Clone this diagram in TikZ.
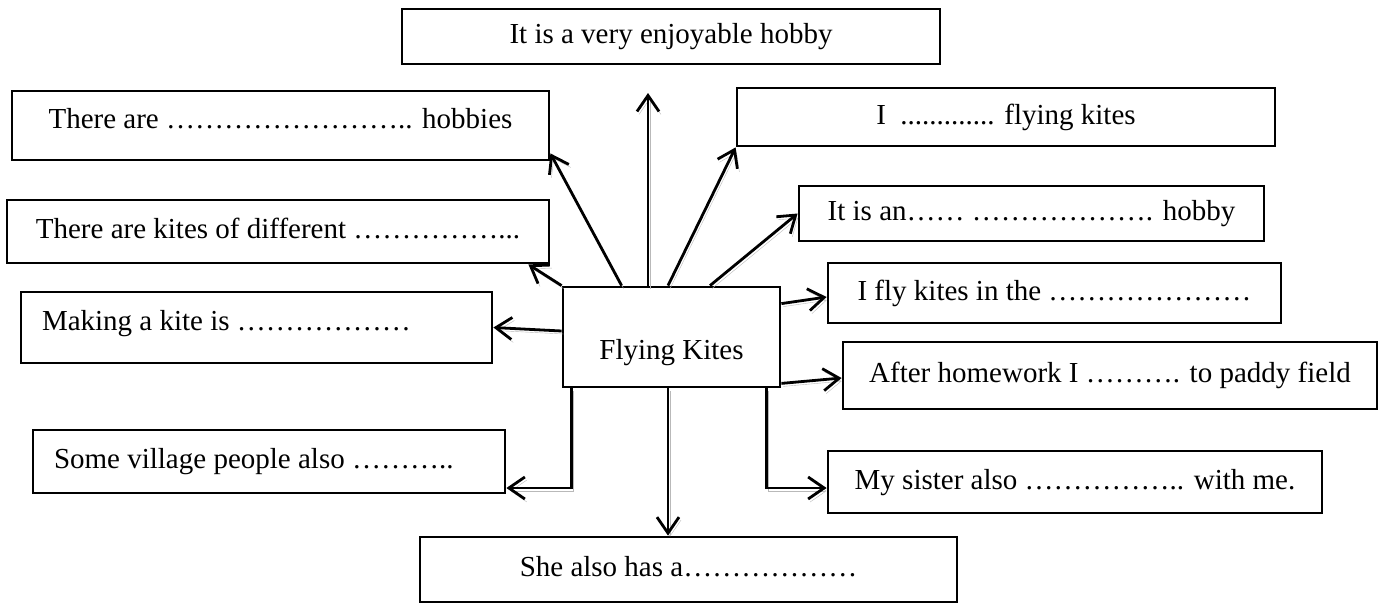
\documentclass[tikz,border=0pt]{standalone}
\usepackage{fontspec}
\setmainfont{Liberation Serif}
\usetikzlibrary{arrows.meta}

\begin{document}
\begin{tikzpicture}[x=1pt,y=-1pt,font=\fontsize{29}{34}\selectfont]
\tikzstyle{box}=[draw,line width=2.8pt,inner sep=0pt,text height=20pt,text depth=6pt]
\tikzstyle{link}=[line width=2.8pt,->,>={Straight Barb[length=16pt,width=22pt]},
  preaction={draw=gray!55,transform canvas={shift={(2pt,-3pt)}}}]

\useasboundingbox (0,0) rectangle (1384,603);

\node[box,minimum width=217pt,minimum height=100pt,text height=51pt] (fk) at (671.5,337) {Flying Kites};

\node[box,minimum width=538pt,minimum height=55pt] (enjoy) at (671,36.5) {It is a very enjoyable hobby};
\node[box,minimum width=537pt,minimum height=69pt,text depth=14pt] (hobbies) at (280.5,125.5) {There are …………………….. hobbies};
\node[box,minimum width=542pt,minimum height=63pt] (kinds) at (278,231.5) {There are kites of different ……………...};
\node[box,minimum width=471pt,minimum height=71pt,text depth=15pt,
  inner xsep=21pt,text width=429pt,align=flush left] (making) at (256.5,327.5) {Making a kite is ………………};
\node[box,minimum width=472pt,minimum height=63pt,
  inner xsep=21pt,text width=430pt,align=flush left] (village) at (269,461.5) {Some village people also ………..};
\node[box,minimum width=537pt,minimum height=65pt] (she) at (688.5,569.5) {She also has a………………};

\node[box,minimum width=538pt,minimum height=58pt] (like) at (1006,117) {I\ \ ............. flying kites};
\node[box,minimum width=465pt,minimum height=55pt] (kind) at (1031.5,213.5) {It is an…… ………………. hobby};
\node[box,minimum width=453pt,minimum height=60pt] (field) at (1054.5,293) {I fly kites in the …………………};
\node[box,minimum width=534pt,minimum height=67pt] (after) at (1110,375.5) {After homework I ………. to paddy field};
\node[box,minimum width=494pt,minimum height=62pt] (sister) at (1075,482) {My sister also …………….. with me.};

\coordinate (top) at (648,93);

\draw[link] (fk.north west) -- ([xshift=-22pt]kinds.south east);
\draw[link] ([xshift=60pt]fk.north west) -- ([yshift=8pt]hobbies.south east);
\draw[link] ([xshift=-23.5pt]fk.north) -- (top);
\draw[link] ([xshift=-3.5pt]fk.north) -- (like.south west);
\draw[link] ([xshift=38.5pt]fk.north) -- (kind.west);
\draw[link] ([yshift=-18pt]fk.north east) -- ([yshift=-4pt]field.west);
\draw[link] ([yshift=5pt]fk.south east) -- ([yshift=-2.5pt]after.west);
\draw[link] ([yshift=6pt]fk.west) -- (making.east);
\draw[link] ([xshift=10pt]fk.south west) |- ([yshift=-26.5pt]village.east);
\draw[link] ([xshift=-15pt]fk.south east) |- ([yshift=-6pt]sister.west);
\draw[link] ([xshift=-3.5pt]fk.south) -- ([xshift=-3.5pt]fk.south |- she.north);

\end{tikzpicture}
\end{document}
